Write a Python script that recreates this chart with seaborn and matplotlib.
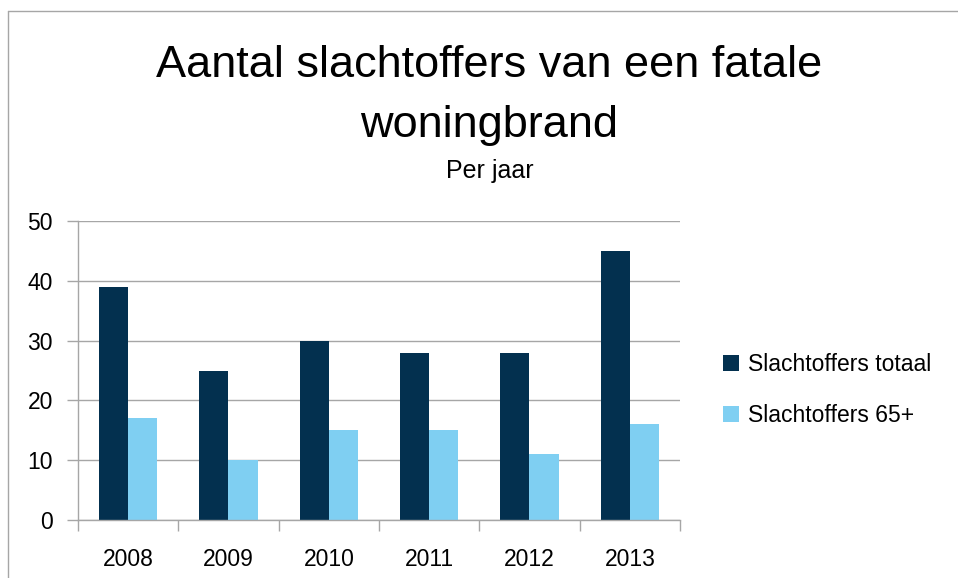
import matplotlib
matplotlib.use('Agg')
import matplotlib.pyplot as plt
import seaborn as sns
import pandas as pd
from matplotlib.lines import Line2D
from matplotlib.patches import Patch

years = ['2008', '2009', '2010', '2011', '2012', '2013']
totaal = [39, 25, 30, 28, 28, 45]
plus65 = [17, 10, 15, 15, 11, 16]
series_names = ['Slachtoffers totaal', 'Slachtoffers 65+']
colors = ['#03304f', '#7fcff2']
y_ticks = [0, 10, 20, 30, 40, 50]


def main():
    df = pd.DataFrame({
        'jaar': years * 2,
        'aantal': totaal + plus65,
        'serie': [series_names[0]] * len(years) + [series_names[1]] * len(years),
    })

    sns.set_style('white')
    plt.rcParams['font.family'] = ['Liberation Sans', 'DejaVu Sans']
    plt.rcParams['text.color'] = 'black'
    plt.rcParams['xtick.color'] = 'black'
    plt.rcParams['ytick.color'] = 'black'

    fig = plt.figure(figsize=(9.58, 5.78), dpi=100)
    ax = fig.add_axes([0.0814, 0.1003, 0.6284, 0.5173])

    sns.barplot(data=df, x='jaar', y='aantal', hue='serie', palette=colors,
                width=0.58, saturation=1, linewidth=0, ax=ax, legend=False)

    ax.set_ylim(0, 50)
    ax.set_xlim(-0.5, len(years) - 0.5)
    ax.set_yticks(y_ticks)
    ax.yaxis.grid(True, color='#a6a6a6', linewidth=1)
    ax.set_axisbelow(True)
    for s in ['top', 'right']:
        ax.spines[s].set_visible(False)
    for s in ['left', 'bottom']:
        ax.spines[s].set_color('#a6a6a6')
        ax.spines[s].set_linewidth(1)
    ax.set_xlabel('')
    ax.set_ylabel('')
    ax.tick_params(axis='x', which='major', length=0, pad=20, labelsize=16.5, labelcolor='black')
    ax.set_xticks([i - 0.5 for i in range(len(years) + 1)], minor=True)
    ax.tick_params(axis='x', which='minor', length=8, color='#a6a6a6', width=1, bottom=True)
    ax.tick_params(axis='y', length=8, color='#a6a6a6', width=1, left=True, pad=10,
                   labelsize=16.5, labelcolor='black')

    fig.text(0.511, 1 - 77 / 578, 'Aantal slachtoffers van een fatale', ha='center', va='baseline', fontsize=32.5)
    fig.text(0.511, 1 - 137 / 578, 'woningbrand', ha='center', va='baseline', fontsize=32.5)
    fig.text(0.511, 1 - 178 / 578, 'Per jaar', ha='center', va='baseline', fontsize=18)

    handles = [Patch(facecolor=c, edgecolor='none') for c in colors]
    fig.legend(handles, series_names, loc='center left', bbox_to_anchor=(0.733, 0.325),
               frameon=False, fontsize=16.5, handlelength=0.7, handleheight=0.7,
               handletextpad=0.4, labelspacing=1.25)

    # rand om de grafiek
    fig.add_artist(Line2D([8 / 958, 1], [1 - 11 / 578, 1 - 11 / 578], color='#a6a6a6', lw=1))
    fig.add_artist(Line2D([8 / 958, 8 / 958], [0, 1 - 11 / 578], color='#a6a6a6', lw=1))

    fig.savefig('out.png', dpi=100)


if __name__ == '__main__':
    main()
